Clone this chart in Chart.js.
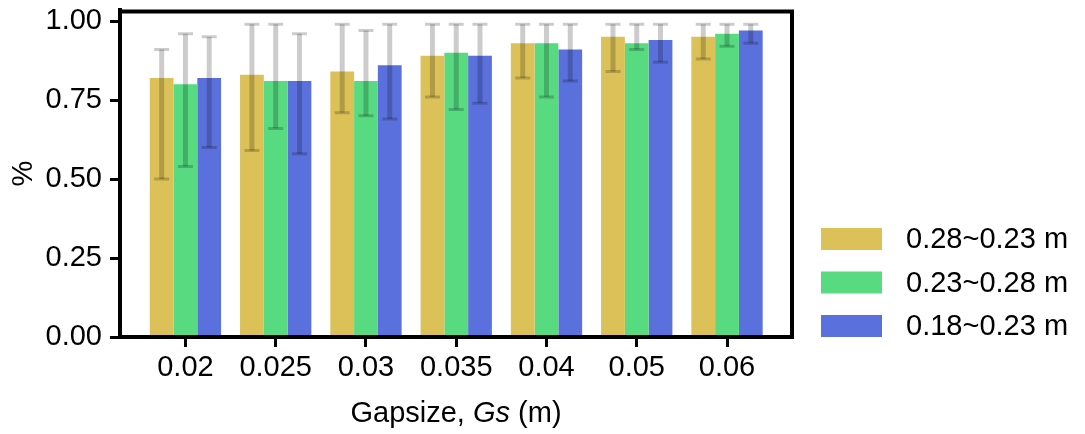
<!DOCTYPE html>
<html>
<head>
    <meta charset="UTF-8">
    <title>Gapsize chart</title>
    <script src="https://cdn.jsdelivr.net/npm/chart.js@4.4.0/dist/chart.umd.min.js"></script>
    <style>
        body { margin: 0; background: #fff; }
        #wrap { width: 1085px; height: 434px; }
    </style>
</head>
<body>
    <div id="wrap"><canvas id="chart"></canvas></div>
    <script>
        // categories (gap size in m)
        var gapsizes = ['0.02', '0.025', '0.03', '0.035', '0.04', '0.05', '0.06'];
        var seriesNames = ['0.28~0.23 m', '0.23~0.28 m', '0.18~0.23 m'];
        var seriesColors = ['#dbc157', '#57da80', '#5a70dc'];

        // bar heights
        var meanA = [0.82, 0.83, 0.84, 0.89, 0.93, 0.95, 0.95];
        var meanB = [0.80, 0.81, 0.81, 0.90, 0.93, 0.93, 0.96];
        var meanC = [0.82, 0.81, 0.86, 0.89, 0.91, 0.94, 0.97];

        // error bar ends
        var lowA = [0.50, 0.59, 0.71, 0.76, 0.82, 0.84, 0.88];
        var highA = [0.91, 0.99, 0.99, 0.99, 0.99, 0.99, 0.99];
        var lowB = [0.54, 0.66, 0.70, 0.72, 0.76, 0.91, 0.92];
        var highB = [0.96, 0.99, 0.97, 0.99, 0.99, 0.99, 0.99];
        var lowC = [0.60, 0.58, 0.69, 0.74, 0.81, 0.87, 0.93];
        var highC = [0.95, 0.96, 0.99, 0.99, 0.99, 0.99, 0.99];

        var yTicks = [0, 0.25, 0.5, 0.75, 1.0];

        var means = [meanA, meanB, meanC];
        var lows = [lowA, lowB, lowC];
        var highs = [highA, highB, highC];

        var FONT = '"Liberation Sans", Arial, Helvetica, sans-serif';
        var FSIZE = 29;

        function toPoints(arr) {
            return arr.map(function(v, i) { return { x: i, y: v }; });
        }

        var datasets = means.map(function(m, k) {
            return {
                label: seriesNames[k],
                data: toPoints(m),
                backgroundColor: seriesColors[k],
                borderWidth: 0,
                barPercentage: 1.0,
                categoryPercentage: 0.79
            };
        });

        // error bars drawn over the bars
        var errorBars = {
            id: 'errorBars',
            afterDatasetsDraw: function(chart) {
                var ctx = chart.ctx;
                var ys = chart.scales.y;
                ctx.save();
                ctx.strokeStyle = 'rgba(0,0,0,0.2)';
                for (var k = 0; k < means.length; k++) {
                    var meta = chart.getDatasetMeta(k);
                    meta.data.forEach(function(bar, j) {
                        var top = ys.getPixelForValue(highs[k][j]);
                        var bot = ys.getPixelForValue(lows[k][j]);
                        ctx.lineWidth = 5;
                        ctx.beginPath();
                        ctx.moveTo(bar.x, top);
                        ctx.lineTo(bar.x, bot);
                        ctx.stroke();
                        ctx.lineWidth = 3;
                        ctx.beginPath();
                        ctx.moveTo(bar.x - 7.5, top);
                        ctx.lineTo(bar.x + 7.5, top);
                        ctx.moveTo(bar.x - 7.5, bot);
                        ctx.lineTo(bar.x + 7.5, bot);
                        ctx.stroke();
                    });
                }
                ctx.restore();
            }
        };

        // frame, axis titles and legend
        var extras = {
            id: 'extras',
            afterDraw: function(chart) {
                var ctx = chart.ctx;
                var a = chart.chartArea;
                ctx.save();
                ctx.strokeStyle = '#000';
                ctx.lineWidth = 4;
                ctx.strokeRect(a.left, a.top + 1.5, a.right - a.left, a.bottom - a.top - 1.5);

                ctx.fillStyle = '#000';
                ctx.textBaseline = 'middle';

                // x title with italic Gs
                var parts = [['Gapsize, ', ''], ['Gs', 'italic '], [' (m)', '']];
                var total = 0;
                parts.forEach(function(p) {
                    ctx.font = p[1] + FSIZE + 'px ' + FONT;
                    total += ctx.measureText(p[0]).width;
                });
                var x = (a.left + a.right) / 2 - total / 2;
                parts.forEach(function(p) {
                    ctx.font = p[1] + FSIZE + 'px ' + FONT;
                    ctx.textAlign = 'left';
                    ctx.fillText(p[0], x, 414);
                    x += ctx.measureText(p[0]).width;
                });

                // y title
                ctx.save();
                ctx.translate(24, (a.top + a.bottom) / 2);
                ctx.rotate(-Math.PI / 2);
                ctx.textAlign = 'center';
                ctx.font = FSIZE + 'px ' + FONT;
                ctx.fillText('%', 0, 0);
                ctx.restore();

                // legend
                ctx.font = FSIZE + 'px ' + FONT;
                ctx.textAlign = 'left';
                chart.data.datasets.forEach(function(ds, k) {
                    var top = 228 + k * 43.5;
                    ctx.fillStyle = ds.backgroundColor;
                    ctx.fillRect(821, top, 61, 22);
                    ctx.fillStyle = '#000';
                    ctx.fillText(ds.label, 906, top + 12);
                });
                ctx.restore();
            }
        };

        var ctx = document.getElementById('chart').getContext('2d');
        var myChart = new Chart(ctx, {
            type: 'bar',
            data: { datasets: datasets },
            options: {
                responsive: true,
                maintainAspectRatio: false,
                animation: false,
                layout: { padding: { left: 0, top: 10, right: 293, bottom: 0 } },
                plugins: {
                    legend: { display: false },
                    tooltip: { enabled: false }
                },
                scales: {
                    x: {
                        type: 'linear',
                        offset: false,
                        min: -0.725,
                        max: 6.72,
                        afterFit: function(s) {
                            s.height = 97;
                            s.paddingLeft = 0;
                            s.paddingRight = 0;
                        },
                        afterBuildTicks: function(s) {
                            s.ticks = gapsizes.map(function(g, i) { return { value: i }; });
                        },
                        grid: {
                            offset: false,
                            drawOnChartArea: false,
                            drawTicks: true,
                            tickLength: 10,
                            tickWidth: 3,
                            tickColor: '#000'
                        },
                        border: { display: true, color: '#000', width: 4 },
                        ticks: {
                            color: '#000',
                            padding: 4,
                            maxRotation: 0,
                            autoSkip: false,
                            font: { family: FONT, size: FSIZE },
                            callback: function(v) { return gapsizes[v]; }
                        }
                    },
                    y: {
                        min: 0,
                        max: 1.035,
                        afterFit: function(s) {
                            s.width = 120;
                            s.paddingTop = 0;
                            s.paddingBottom = 0;
                        },
                        afterBuildTicks: function(s) {
                            s.ticks = yTicks.map(function(v) { return { value: v }; });
                        },
                        grid: {
                            drawOnChartArea: false,
                            drawTicks: true,
                            tickLength: 10,
                            tickWidth: 3,
                            tickColor: '#000'
                        },
                        border: { display: true, color: '#000', width: 4 },
                        ticks: {
                            color: '#000',
                            padding: 8,
                            font: { family: FONT, size: FSIZE },
                            callback: function(v) { return v.toFixed(2); }
                        }
                    }
                }
            },
            plugins: [errorBars, extras]
        });
    </script>
</body>
</html>
